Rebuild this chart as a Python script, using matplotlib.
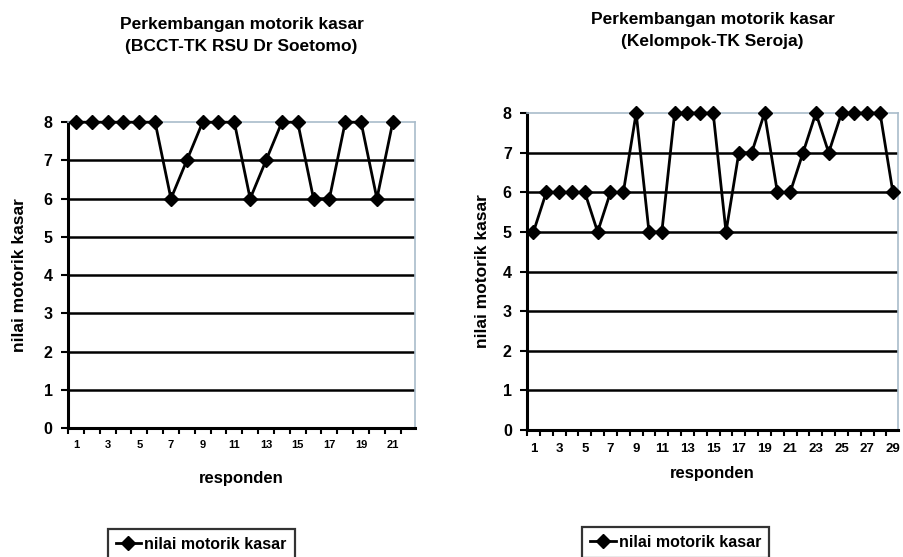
import numpy as np
import matplotlib.pyplot as plt
from matplotlib.ticker import FixedLocator

plt.rcParams['font.family'] = ['Liberation Sans', 'DejaVu Sans']
plt.rcParams['font.weight'] = 'bold'

series_label = 'nilai motorik kasar'
x_label = 'responden'

# BCCT-TK RSU Dr Soetomo
title_a = 'Perkembangan motorik kasar\n(BCCT-TK RSU Dr Soetomo)'
resp_a = list(range(1, 22))
score_a = [8, 8, 8, 8, 8, 8, 6, 7, 8, 8, 8, 6, 7, 8, 8, 6, 6, 8, 8, 6, 8]

# Kelompok-TK Seroja
title_b = 'Perkembangan motorik kasar\n(Kelompok-TK Seroja)'
resp_b = list(range(1, 30))
score_b = [5, 6, 6, 6, 6, 5, 6, 6, 8, 5, 5, 8, 8, 8, 8, 5, 7, 7, 8, 6, 6,
           7, 8, 7, 8, 8, 8, 8, 6]


def draw(ax, x, y, title, xmax, xfont, title_y, xlab_y, ylab_x, leg_pos):
    ax.plot(x, y, color='black', lw=2.0, marker='D', ms=7, mfc='black',
            mec='black', label=series_label, zorder=5, clip_on=False)
    ax.set_xlim(0.5, xmax)
    ax.set_ylim(0, 8)

    # horizontal grid lines
    for v in range(1, 8):
        ax.axhline(v, color='black', lw=1.8, zorder=2)

    ax.set_yticks(range(0, 9))
    ax.tick_params(axis='y', direction='out', length=5, width=1.5,
                   labelsize=11.5, pad=6)
    ax.set_xticks(x[::2])
    ax.xaxis.set_minor_locator(FixedLocator(np.arange(0.5, xmax + 0.01, 1)))
    ax.tick_params(axis='x', which='major', length=0, labelsize=xfont, pad=9)
    ax.tick_params(axis='x', which='minor', direction='out', length=4, width=1.5)
    for lab in ax.get_xticklabels() + ax.get_yticklabels():
        lab.set_fontweight('bold')

    for s in ['left', 'bottom']:
        ax.spines[s].set_linewidth(2.2)
        ax.spines[s].set_color('black')
    for s in ['top', 'right']:
        ax.spines[s].set_linewidth(1.2)
        ax.spines[s].set_color('#a9bccb')

    ax.set_title(title, fontsize=12.5, fontweight='bold', y=title_y, linespacing=1.6)
    ax.set_xlabel(x_label, fontsize=12, fontweight='bold')
    ax.xaxis.set_label_coords(0.5, xlab_y)
    ax.set_ylabel(series_label, fontsize=12.5, fontweight='bold')
    ax.yaxis.set_label_coords(ylab_x, 0.5)

    leg = ax.legend(loc='lower left', bbox_to_anchor=leg_pos,
                    bbox_transform=ax.figure.transFigure, frameon=True,
                    fancybox=False, edgecolor='black', fontsize=11.5,
                    handlelength=1.6, handletextpad=0.2, borderpad=0.5,
                    borderaxespad=0)
    leg.get_frame().set_linewidth(1.6)
    for t in leg.get_texts():
        t.set_fontweight('bold')


fig = plt.figure(figsize=(9.04, 5.57), dpi=100)
ax1 = fig.add_axes([0.0752, 0.2316, 0.3838, 0.549])
ax2 = fig.add_axes([0.583, 0.228, 0.4104, 0.569])

draw(ax1, resp_a, score_a, title_a, 22.4, 8, 1.205, -0.14, -0.118, (0.119, -0.005))
draw(ax2, resp_b, score_b, title_b, 29.4, 9.5, 1.185, -0.115, -0.10, (0.644, -0.001))

fig.savefig('out.png', dpi=100)
